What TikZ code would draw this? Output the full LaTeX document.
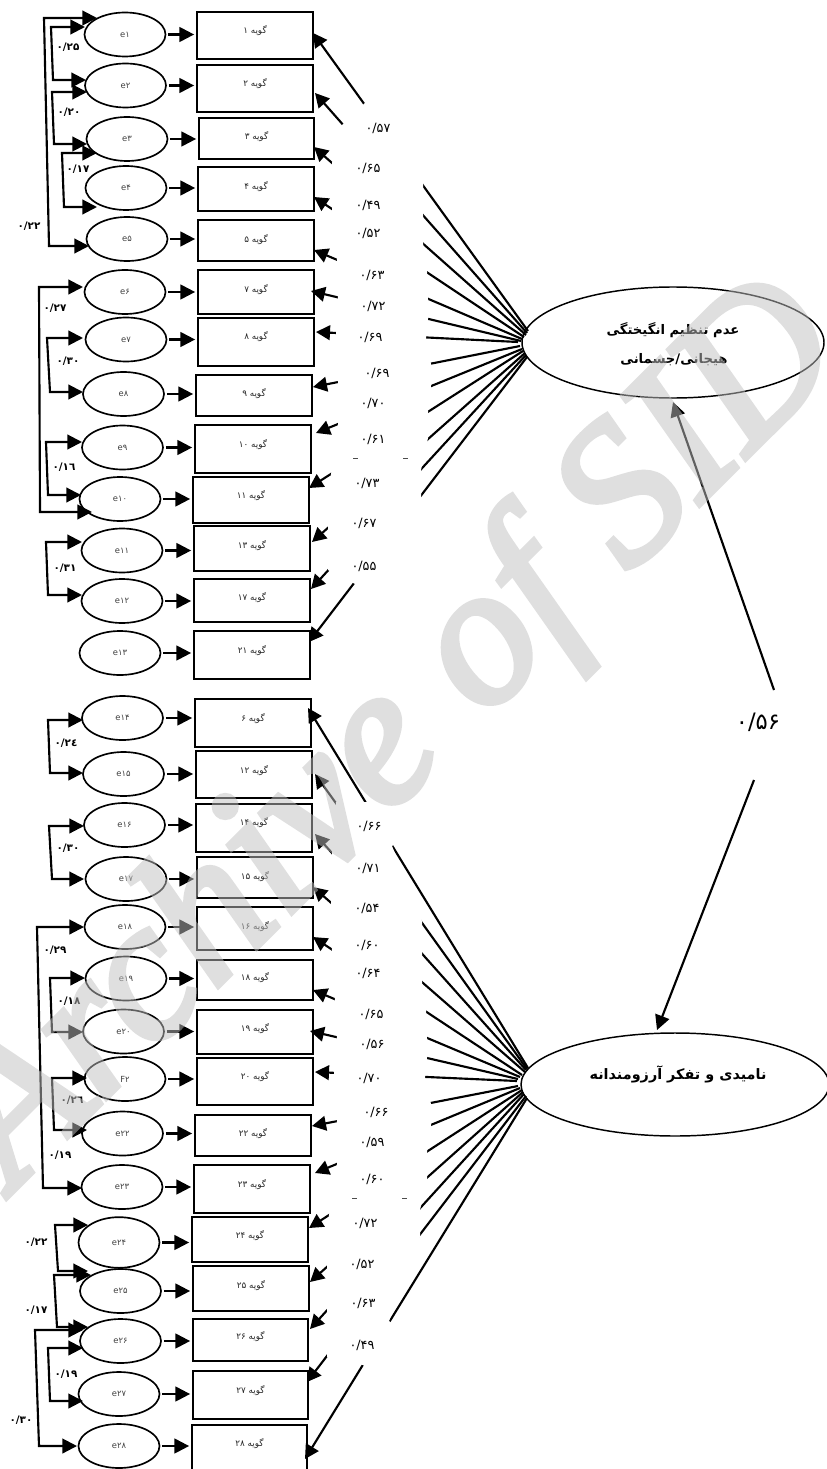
\documentclass[tikz,border=0pt]{standalone}
\usepackage{fontspec}
\usetikzlibrary{shapes.geometric,arrows.meta}
\TeXXeTstate=1
\newfontfamily\arabicfont[Script=Arabic]{DejaVu Sans}
\newfontfamily\markfont[ItalicFeatures={FakeBold=3}]{Liberation Serif}
\definecolor{markgray}{RGB}{192,192,192}
\tikzset{
  errvarshape/.style={ellipse,draw=black,line width=1.25pt,minimum width=121.5pt*0.5,minimum height=66pt*0.5,inner sep=0pt,font=\arabicfont\fontsize{6.3}{6}\selectfont,text=black!75},
  itemboxshape/.style={rectangle,draw=black,line width=1.3pt,inner sep=0pt},
  itemlab/.style={inner sep=0pt,font=\arabicfont\fontsize{6.6}{7}\selectfont,text=black!85},
  loadlab/.style={inner sep=0pt,font=\arabicfont\fontsize{9.6}{10}\selectfont},
  corrlab/.style={inner sep=0pt,font=\arabicfont\bfseries\fontsize{7.8}{8}\selectfont},
  latentshape/.style={ellipse,draw=black,line width=1.1pt,inner sep=0pt},
  latentlab/.style={inner sep=0pt,font=\arabicfont\bfseries\fontsize{9.9}{11}\selectfont},
  headed/.style={line width=1.6pt,-{Triangle[length=11pt,width=11pt]}},
  linkarr/.style={headed,shorten <=1.5pt,shorten >=1.5pt},
  covarr/.style={line width=1.6pt,line join=miter,{Triangle[length=11pt,width=11pt]}-{Triangle[length=11pt,width=11pt]}},
  loadarr/.style={line width=1.6pt,-{Triangle[length=10.5pt,width=11pt]}},
  maskarea/.style={fill=white,draw=none},
}
\newcommand{\errvar}[4]{\node[errvarshape] (#1) at (#2,#3) {#4};}
\newcommand{\itembox}[7]{%
  \node[itemboxshape,minimum width={(#4-#2)*0.75pt},minimum height={(#5-#3)*0.75pt}] (#1) at ({(#2+#4)/2},{(#3+#5)/2}) {};
  \node[itemlab] (#1t) at ({(#2+#4)/2},#6) {\beginR گویه #7\endR};}
\newcommand{\elink}[2]{\draw[linkarr] (#1.east) -- (#1.east -| #2.west);}
\newcommand{\covlink}[7]{%
  \coordinate (#1a) at (#2,#3); \coordinate (#1b) at (#4,#3);
  \coordinate (#1c) at (#5,#6); \coordinate (#1d) at (#7,#6);
  \draw[covarr] (#1a) -- (#1b) -- (#1c) -- (#1d);}
\newcommand{\loadline}[5]{%
  \coordinate (from#1) at (#2,#3); \coordinate (to#1) at (#4,#5);
  \draw[loadarr] (from#1) -- (to#1);}
\newcommand{\llab}[4]{\node[loadlab] (#1) at (#2,#3) {#4};}
\newcommand{\clab}[4]{\node[corrlab] (#1) at (#2,#3) {#4};}
\begin{document}
\begin{tikzpicture}[x=0.75pt,y=-0.75pt]
\useasboundingbox (0,0) rectangle (827,1469);
\fill[white] (0,0) rectangle (827,1469);

% error variables
\errvar{e1}{125}{34.5}{e۱}
\errvar{e2}{125.5}{85.5}{e۲}
\errvar{e3}{127}{139}{e۳}
\errvar{e4}{126}{188}{e۴}
\errvar{e5}{127}{239}{e۵}
\errvar{e6}{125}{292}{e۶}
\errvar{e7}{126}{339.5}{e۷}
\errvar{e8}{123.5}{394}{e۸}
\errvar{e9}{122.5}{447.5}{e۹}
\errvar{e10}{120}{499}{e۱۰}
\errvar{e11}{122}{550.5}{e۱۱}
\errvar{e12}{122}{601}{e۱۲}
\errvar{e13}{120}{653}{e۱۳}
\errvar{e14}{122.5}{718}{e۱۴}
\errvar{e15}{123.5}{774}{e۱۵}
\errvar{e16}{124.5}{825}{e۱۶}
\errvar{e17}{126}{879}{e۱۷}
\errvar{e18}{125}{927}{e۱۸}
\errvar{e19}{126}{978.5}{e۱۹}
\errvar{e20}{123.5}{1031.5}{e۲۰}
\errvar{e21}{125}{1079}{F۲}
\errvar{e22}{122.5}{1133.5}{e۲۲}
\errvar{e23}{122}{1187}{e۲۳}
\node[errvarshape,minimum height=38pt] (e24) at (119,1242.5) {e۲۴};
\errvar{e25}{120.5}{1291}{e۲۵}
\errvar{e26}{120.5}{1341}{e۲۶}
\errvar{e27}{119}{1394}{e۲۷}
\errvar{e28}{119}{1446}{e۲۸}

% item boxes
\itembox{b1}{197}{12}{313}{59}{31}{۱}
\itembox{b2}{197}{65}{313}{112}{84}{۲}
\itembox{b3}{199}{118}{314}{159}{137}{۳}
\itembox{b4}{198}{167}{314}{211}{187}{۴}
\itembox{b5}{198}{220}{314}{261}{240}{۵}
\itembox{b7}{198}{270}{314}{314}{290}{۷}
\itembox{b8}{198}{318}{314}{366}{337}{۸}
\itembox{b9}{196}{375}{312}{416}{394}{۹}
\itembox{b10}{195}{425}{311}{473}{445}{۱۰}
\itembox{b11}{193}{477}{309}{523}{496}{۱۱}
\itembox{b13}{194}{526}{310}{571}{546}{۱۳}
\itembox{b17}{194}{579}{310}{622}{598}{۱۷}
\itembox{b21}{194}{631}{310}{679}{651}{۲۱}
\itembox{b6}{195}{699}{311}{747}{719}{۶}
\itembox{b12}{196}{751}{312}{798}{771}{۱۲}
\itembox{b14}{196}{804}{312}{852}{823}{۱۴}
\itembox{b15}{197}{857}{313}{898}{877}{۱۵}
\itembox{b16}{197}{907}{313}{950}{927}{۱۶}
\itembox{b18}{197}{960}{313}{1000}{978}{۱۸}
\itembox{b19}{197}{1010}{313}{1054}{1029}{۱۹}
\itembox{b20}{197}{1058}{313}{1105}{1077}{۲۰}
\itembox{b22}{195}{1115}{311}{1156}{1134}{۲۲}
\itembox{b23}{194}{1165}{310}{1213}{1185}{۲۳}
\itembox{b24}{192}{1217}{308}{1262}{1236}{۲۴}
\itembox{b25}{193}{1266}{309}{1311}{1286}{۲۵}
\itembox{b26}{193}{1319}{308}{1361}{1337}{۲۶}
\itembox{b27}{193}{1371}{308}{1419}{1391}{۲۷}
\itembox{b28}{192}{1425}{307}{1473}{1444}{۲۸}

% error to item
\elink{e1}{b1}\elink{e2}{b2}\elink{e3}{b3}\elink{e4}{b4}\elink{e5}{b5}
\elink{e6}{b7}\elink{e7}{b8}\elink{e8}{b9}\elink{e9}{b10}\elink{e10}{b11}
\elink{e11}{b13}\elink{e12}{b17}\elink{e13}{b21}\elink{e14}{b6}\elink{e15}{b12}
\elink{e16}{b14}\elink{e17}{b15}\elink{e18}{b16}\elink{e19}{b18}\elink{e20}{b19}
\elink{e21}{b20}\elink{e22}{b22}\elink{e23}{b23}\elink{e24}{b24}\elink{e25}{b25}
\elink{e26}{b26}\elink{e27}{b27}\elink{e28}{b28}

% correlated errors
\covlink{ca}{97}{18}{44}{49}{246}{89}
\covlink{cb}{85}{27}{51}{53}{80}{86}
\covlink{cc}{87}{92}{52}{54}{144}{87}
\covlink{cd}{97}{153}{62}{64}{207}{97}
\covlink{ce}{83}{287}{39}{40}{512}{92}
\covlink{cf}{83}{338}{47}{50}{392}{83}
\covlink{cg}{82}{442}{46}{48}{495}{81}
\covlink{ch}{82}{542}{46}{48}{595}{82}
\covlink{ci}{83}{720}{48}{50}{773}{83}
\covlink{cj}{84}{826}{49}{52}{879}{84}
\covlink{ck}{84}{927}{37}{43}{1188}{82}
\covlink{cl}{85}{978}{50}{52}{1032}{83}
\covlink{cm}{87}{1078}{52}{54}{1130}{87}
\covlink{cn}{88}{1225}{55}{58}{1271}{88}
\covlink{co}{91}{1275}{54}{57}{1327}{88}
\covlink{cp}{83}{1330}{35}{39}{1446}{77}
\covlink{cq}{83}{1348}{48}{50}{1401}{83}

% latent factors
\node[latentshape,minimum width={302*0.75pt},minimum height={111*0.75pt}] (F1) at (673,342.5) {};
\node[latentshape,minimum width={308*0.75pt},minimum height={103*0.75pt}] (F2) at (675,1084.5) {};
\node[latentlab] (F1a) at (673,330) {\beginR عدم تنظیم انگیختگی\endR};
\node[latentlab] (F1b) at (674,360) {\beginR هیجانی/جسمانی\endR};
\node[latentlab,font=\arabicfont\bfseries\fontsize{10.8}{12}\selectfont] (F2a) at (678,1074) {\beginR نامیدی و تفکر آرزومندانه\endR};

% loadings, factor 1
\loadline{b1}{528}{331}{313}{33}
\loadline{b2}{527}{333}{315}{93}
\loadline{b3}{526}{335}{314}{147}
\loadline{b4}{524}{337}{314}{197}
\loadline{b5}{522}{339}{314}{250}
\loadline{b7}{521}{341}{311}{291}
\loadline{b8}{518}{342}{316}{332}
\loadline{b9}{520}{346}{313}{387}
\loadline{b10}{522}{349}{316}{433}
\loadline{b11}{523}{351}{309}{488}
\loadline{b13}{525}{353}{312}{542}
\loadline{b17}{526}{355}{311}{589}
\loadline{b21}{527}{357}{309}{642}
% loadings, factor 2
\loadline{b6}{528}{1068}{308}{708}
\loadline{b12}{527}{1069}{315}{774}
\loadline{b14}{526}{1070}{315}{834}
\loadline{b15}{525}{1072}{313}{887}
\loadline{b16}{522}{1075}{313}{937}
\loadline{b18}{520}{1077}{313}{990}
\loadline{b19}{518}{1079}{310}{1031}
\loadline{b20}{517}{1081}{315}{1072}
\loadline{b22}{518}{1086}{312}{1126}
\loadline{b23}{520}{1088}{315}{1173}
\loadline{b24}{522}{1090}{309}{1228}
\loadline{b25}{523}{1092}{310}{1282}
\loadline{b26}{524}{1094}{310}{1329}
\loadline{b27}{526}{1096}{307}{1382}
\loadline{b28}{527}{1098}{305}{1459}

% the white label column interrupts the loading lines
\fill[maskarea] (365,103) -- (369,100) -- (427,179) -- (423,182) -- (423,213) -- (423,243) -- (427,272) -- (428,299) -- (428,319) -- (426,338) -- (431,364) -- (431,386) -- (428,412) -- (428,438) -- (421,470) -- (421,497) -- (425,500) -- (359,587) -- (355,584) -- (328,570) -- (328,528) -- (331,474) -- (338,424) -- (338,382) -- (336,332) -- (338,297) -- (337,260) -- (332,210) -- (332,163) -- (342,125) -- cycle;
\fill[maskarea] (367,802) -- (372,799) -- (396,843) -- (392,846) -- (422,921) -- (422,952) -- (422,982) -- (426,1011) -- (427,1038) -- (427,1058) -- (425,1078) -- (431,1104) -- (431,1126) -- (427,1152) -- (427,1179) -- (420,1210) -- (420,1237) -- (389,1321) -- (393,1324) -- (367,1368) -- (363,1365) -- (327,1357) -- (327,1310) -- (327,1267) -- (329,1215) -- (337,1164) -- (337,1122) -- (334,1072) -- (337,1037) -- (335,1000) -- (332,950) -- (331,903) -- (332,853) -- (336,802) -- cycle;

% factor correlation
\coordinate (corrtop) at (774,690);
\coordinate (corrbot) at (754,780);
\coordinate (tipF1) at (673,402);
\coordinate (tipF2) at (657,1030);
\draw[headed] (corrtop) -- (tipF1);
\draw[headed] (corrbot) -- (tipF2);
\node[inner sep=0pt,font=\arabicfont\fontsize{17}{18}\selectfont] (corrval) at (758,722) {۰/۵۶};

% small dashes
\draw[black!70,line width=0.6pt] (353,458) -- (358,458) (403,458) -- (408,458) (352,1198) -- (357,1198) (402,1198) -- (407,1198);

% loading labels
\llab{l1}{378}{128}{۰/۵۷}
\llab{l2}{368}{168}{۰/۶۵}
\llab{l3}{368}{205}{۰/۴۹}
\llab{l4}{368}{233}{۰/۵۲}
\llab{l5}{372}{275}{۰/۶۳}
\llab{l6}{373}{306}{۰/۷۲}
\llab{l7}{370}{337}{۰/۶۹}
\llab{l8}{377}{373}{۰/۶۹}
\llab{l9}{373}{403}{۰/۷۰}
\llab{l10}{373}{439}{۰/۶۱}
\llab{l11}{367}{483}{۰/۷۳}
\llab{l12}{364}{523}{۰/۶۷}
\llab{l13}{364}{566}{۰/۵۵}
\llab{m1}{369}{826}{۰/۶۶}
\llab{m2}{368}{868}{۰/۷۱}
\llab{m3}{367}{908}{۰/۵۴}
\llab{m4}{367}{945}{۰/۶۰}
\llab{m5}{368}{973}{۰/۶۴}
\llab{m6}{371}{1014}{۰/۶۵}
\llab{m7}{372}{1044}{۰/۵۶}
\llab{m8}{369}{1078}{۰/۷۰}
\llab{m9}{376}{1112}{۰/۶۶}
\llab{m10}{372}{1142}{۰/۵۹}
\llab{m11}{372}{1179}{۰/۶۰}
\llab{m12}{365}{1223}{۰/۷۲}
\llab{m13}{362}{1264}{۰/۵۲}
\llab{m14}{363}{1303}{۰/۶۳}
\llab{m15}{362}{1345}{۰/۴۹}

% correlation labels
\clab{k1}{68}{47}{۰/۲۵}
\clab{k2}{69}{112}{۰/۲۰}
\clab{k3}{78}{169}{۰/۱۷}
\clab{k4}{29}{226}{۰/۲۲}
\clab{k5}{55}{308}{۰/۲۷}
\clab{k6}{68}{361}{۰/۳۰}
\clab{k7}{64}{467}{۰/۱٦}
\clab{k8}{65}{568}{۰/۳۱}
\clab{k9}{66}{743}{۰/۲٤}
\clab{k10}{68}{848}{۰/۳۰}
\clab{k11}{55}{950}{۰/۲۹}
\clab{k12}{69}{1001}{۰/۱۸}
\clab{k13}{72}{1100}{۰/۲٦}
\clab{k14}{60}{1155}{۰/۱۹}
\clab{k15}{36}{1242}{۰/۲۲}
\clab{k16}{36}{1310}{۰/۱۷}
\clab{k17}{66}{1374}{۰/۱۹}
\clab{k18}{21}{1420}{۰/۳۰}

% watermark
\begin{scope}[transparency group,opacity=0.5]
\node[anchor=base west,rotate=45,inner sep=0pt,text=markgray,text opacity=1,font=\markfont\itshape\fontsize{150}{150}\selectfont] (mark) at (14,1190) {Archive of SID};
\end{scope}
\end{tikzpicture}
\end{document}
